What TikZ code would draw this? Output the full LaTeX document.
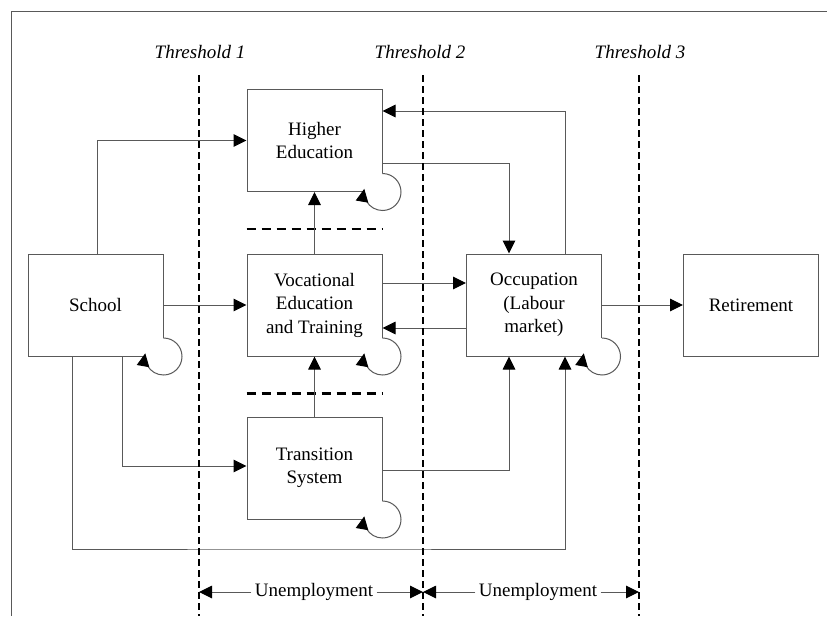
\documentclass[tikz,border=0pt]{standalone}
\usepackage{fontspec}
\setmainfont{Liberation Serif}
\usetikzlibrary{positioning, calc, arrows.meta}
\definecolor{linegray}{rgb}{0.35,0.35,0.35}

\begin{document}
\begin{tikzpicture}[x=1pt, y=-1pt,
	every node/.style={font=\fontsize{19}{23.5}\selectfont},
	box/.style={draw=linegray, line width=1pt, minimum width=135pt, minimum height=102pt, align=center, inner sep=0pt},
	arr/.style={draw=linegray, line width=1pt, -{Triangle[length=13pt, width=12.5pt, color=black]}},
	thres/.style={line width=2.6pt, dash pattern=on 7pt off 4pt},
	sep/.style={line width=2.4pt, dash pattern=on 9pt off 6pt}]
\useasboundingbox (0,0) rectangle (827,616);

\draw[linegray, line width=1pt] (827,11) -- (11,11) -- (11,616);

\node[box] (school) at (95.5,305) {School};
\node[box] (he) at (314.5,140.5) {Higher\\Education};
\node[box] (voc) at (314.5,305) {Vocational\\Education\\and Training};
\node[box] (trans) at (314.5,468) {Transition\\System};
\node[box] (occ) at (534,305) {Occupation\\(Labour\\market)};
\node[box] (ret) at (751,305) {Retirement};

% loops at the corners
\foreach \n in {school,he,voc,trans,occ}
{
	\fill[white] (\n.south east) circle[radius=18.5pt];
	\draw[arr] ([yshift=18.5pt]\n.south east) arc[start angle=90, end angle=-190, radius=18.5pt];
}

\draw[sep] ($(he.south west)+(0,37)$) -- ($(he.south east)+(0,37)$);
\draw[sep] ($(voc.south west)+(0,37)$) -- ($(voc.south east)+(0,37)$);

\coordinate (low) at (300,549);
\draw[arr] ([xshift=1.5pt]school.north) |- (he.west);
\draw[arr] (school.east) -- (voc.west);
\draw[arr] ([xshift=26.5pt]school.south) |- ([yshift=2pt]trans.west);
\draw[arr] ([xshift=-23.5pt]school.south) |- (low) -| ([xshift=31pt]occ.south);
\draw[arr] (voc.north) -- (he.south);
\draw[arr] (trans.north) -- (voc.south);
\draw[arr] ([yshift=-22.5pt]he.east) -| ([xshift=-25pt]occ.north);
\draw[arr] ([xshift=31pt]occ.north) |- ([yshift=29.5pt]he.east);
\draw[arr] ([yshift=22pt]voc.east) -- ([yshift=22pt]occ.west);
\draw[arr] ([yshift=-23pt]occ.west) -- ([yshift=-23pt]voc.east);
\draw[arr] ([yshift=-2pt]trans.east) -| ([xshift=-25pt]occ.south);
\draw[arr] (occ.east) -- (ret.west);

\foreach \x/\n/\l in {199/1/200,423/2/420,639/3/640}
{
	\coordinate (t\n) at (\x,75);
	\draw[thres] (t\n) -- (\x,616);
	\node (lab\n) at (\l,52) {\textit{Threshold \n}};
}

\node (un1) at (314,592) {Unemployment};
\node (un2) at (538,592) {Unemployment};
\draw[arr] (un1.west) -- (t1 |- un1.west);
\draw[arr] (un1.east) -- (t2 |- un1.east);
\draw[arr] (un2.west) -- (t2 |- un2.west);
\draw[arr] (un2.east) -- (t3 |- un2.east);

\end{tikzpicture}
\end{document}
